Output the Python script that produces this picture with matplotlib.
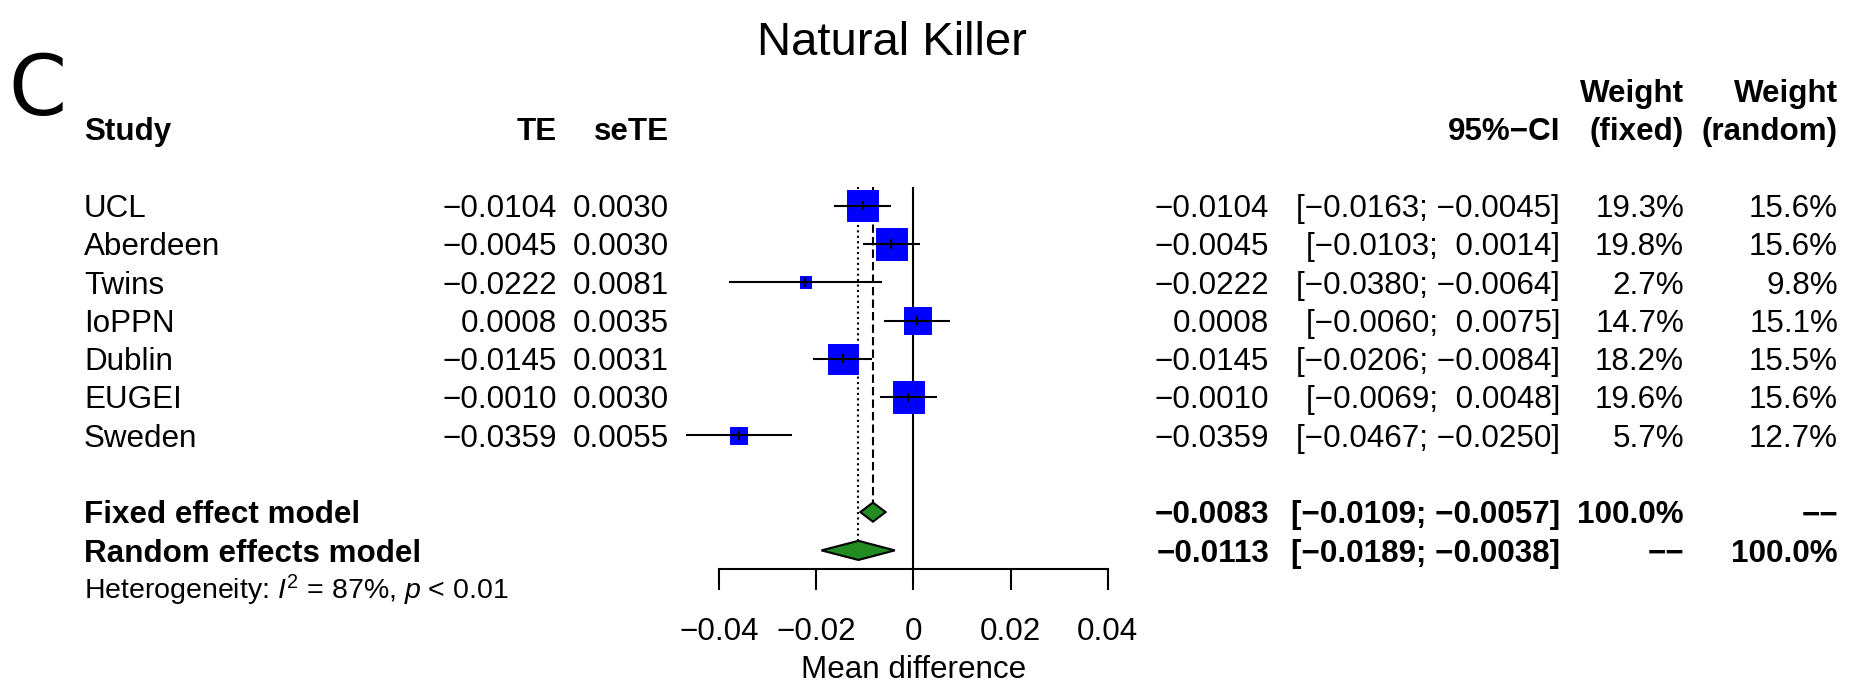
import matplotlib
matplotlib.use("Agg")
import matplotlib.pyplot as plt
import matplotlib.transforms as transforms
import numpy as np

plt.rcParams["font.family"] = ["Liberation Sans", "DejaVu Sans"]
plt.rcParams["mathtext.fontset"] = "custom"
plt.rcParams["mathtext.rm"] = "Liberation Sans"
plt.rcParams["mathtext.it"] = "Liberation Sans:italic"

# Study level results
studies = ["UCL", "Aberdeen", "Twins", "IoPPN", "Dublin", "EUGEI", "Sweden"]
te = [-0.0104, -0.0045, -0.0222, 0.0008, -0.0145, -0.0010, -0.0359]
se_te = [0.0030, 0.0030, 0.0081, 0.0035, 0.0031, 0.0030, 0.0055]
ci_lo = [-0.0163, -0.0103, -0.0380, -0.0060, -0.0206, -0.0069, -0.0467]
ci_hi = [-0.0045, 0.0014, -0.0064, 0.0075, -0.0084, 0.0048, -0.0250]
w_fixed = [19.3, 19.8, 2.7, 14.7, 18.2, 19.6, 5.7]
w_random = [15.6, 15.6, 9.8, 15.1, 15.5, 15.6, 12.7]

# Pooled estimates
fixed_te, fixed_lo, fixed_hi = -0.0083, -0.0109, -0.0057
random_te, random_lo, random_hi = -0.0113, -0.0189, -0.0038
i2 = 87
het_p = "< 0.01"

x_ticks = [-0.04, -0.02, 0, 0.02, 0.04]
x_ticklabels = ["\u22120.04", "\u22120.02", "0", "0.02", "0.04"]

W, H = 1857, 683
ROW0, ROW_H = 205.7, 38.3          # pixel centre of first row, row height
AXIS_PX = 569.3                     # pixel y of the x axis line
FS = 22.6
LW = 1.5


def num(v):
    return f"{v:.4f}".replace("-", "\u2212")


def padnum(v):
    s = num(v)
    return s if v < 0 else " " + s


def ci(lo, hi):
    return "[" + padnum(lo) + "; " + padnum(hi) + "]"


fig = plt.figure(figsize=(W / 100, H / 100), dpi=100)
ax = fig.add_axes([718.9 / W, 1 - AXIS_PX / H, 388.8 / W, AXIS_PX / H])
ax.set_xlim(-0.04, 0.04)
row_top = -ROW0 / ROW_H
row_axis = (AXIS_PX - ROW0) / ROW_H
ax.set_ylim(row_axis, row_top)

for s in ["left", "right", "top"]:
    ax.spines[s].set_visible(False)
ax.spines["bottom"].set_bounds(-0.04, 0.04)
ax.spines["bottom"].set_linewidth(LW)
ax.set_yticks([])
ax.set_xticks(x_ticks)
ax.set_xticklabels(x_ticklabels, fontsize=FS)
ax.tick_params(axis="x", direction="out", length=14.9, width=LW, pad=19.5)
ax.patch.set_visible(False)

rows = np.arange(len(studies))
fixed_row, random_row = len(studies) + 1, len(studies) + 2
dh = 0.25

# reference lines
ax.vlines(0, -0.5, row_axis, color="black", lw=LW)
ax.plot([fixed_te, fixed_te], [-0.5, fixed_row - dh], color="black", lw=LW,
        dashes=(4, 2))
ax.plot([random_te, random_te], [-0.5, random_row - dh], color="black", lw=LW,
        dashes=(1, 1.6))

# squares sized by fixed-effect weight
side_pt = 7.1 * np.sqrt(np.array(w_fixed)) * 0.72
ax.scatter(te, rows, s=side_pt ** 2, marker="s", color="blue",
           edgecolors="blue", linewidths=0.7, zorder=3, clip_on=False)
ax.hlines(rows, ci_lo, ci_hi, color="black", lw=LW, zorder=4, clip_on=False)
ax.vlines(te, rows - 0.12, rows + 0.12, color="black", lw=LW, zorder=4)

# pooled diamonds
for r, m, lo, hi in [(fixed_row, fixed_te, fixed_lo, fixed_hi),
                     (random_row, random_te, random_lo, random_hi)]:
    ax.fill([lo, m, hi, m], [r, r - dh, r, r + dh], facecolor="#228b22",
            edgecolor="black", lw=LW, zorder=3)

# text columns
tr = transforms.blended_transform_factory(fig.transFigure, ax.transData)


def put(xpx, row, s, ha, bold=False, size=FS):
    off = 0.716 * size / 0.72 / 2 / ROW_H
    ax.text(xpx / W, row + off, s, transform=tr, ha=ha, va="baseline",
            fontsize=size, fontweight="bold" if bold else "normal")


X_STUDY, X_TE, X_SE = 84, 557, 669
X_EST, X_CI, X_WF, X_WR = 1269, 1560, 1684, 1838

put(X_STUDY, -2, "Study", "left", True)
put(X_TE, -2, "TE", "right", True)
put(X_SE, -2, "seTE", "right", True)
put(X_CI, -2, "95%\u2212CI", "right", True)
put(X_WF, -3, "Weight", "right", True)
put(X_WF, -2, "(fixed)", "right", True)
put(X_WR, -3, "Weight", "right", True)
put(X_WR, -2, "(random)", "right", True)

for i in rows:
    put(X_STUDY, i, studies[i], "left")
    put(X_TE, i, num(te[i]), "right")
    put(X_SE, i, num(se_te[i]), "right")
    put(X_EST, i, num(te[i]), "right")
    put(X_CI, i, ci(ci_lo[i], ci_hi[i]), "right")
    put(X_WF, i, f"{w_fixed[i]:.1f}%", "right")
    put(X_WR, i, f"{w_random[i]:.1f}%", "right")

put(X_STUDY, fixed_row, "Fixed effect model", "left", True)
put(X_EST, fixed_row, num(fixed_te), "right", True)
put(X_CI, fixed_row, ci(fixed_lo, fixed_hi), "right", True)
put(X_WF, fixed_row, "100.0%", "right", True)
put(X_WR, fixed_row, "\u2212\u2212", "right", True)

put(X_STUDY, random_row, "Random effects model", "left", True)
put(X_EST, random_row, num(random_te), "right", True)
put(X_CI, random_row, ci(random_lo, random_hi), "right", True)
put(X_WF, random_row, "\u2212\u2212", "right", True)
put(X_WR, random_row, "100.0%", "right", True)

put(X_STUDY, random_row + 1,
    f"Heterogeneity: $I^2$ = {i2}%, $p$ {het_p}", "left", size=20.5)

fig.text(913.3 / W, 1 - 678 / H, "Mean difference", ha="center",
         va="baseline", fontsize=FS)
fig.text(892 / W, 1 - 55 / H, "Natural Killer", ha="center", va="baseline",
         fontsize=34)
fig.text(37.5 / W, 1 - 115 / H, "C", ha="center", va="baseline", fontsize=60,
         family="DejaVu Sans")

fig.savefig("out.png", dpi=100)
